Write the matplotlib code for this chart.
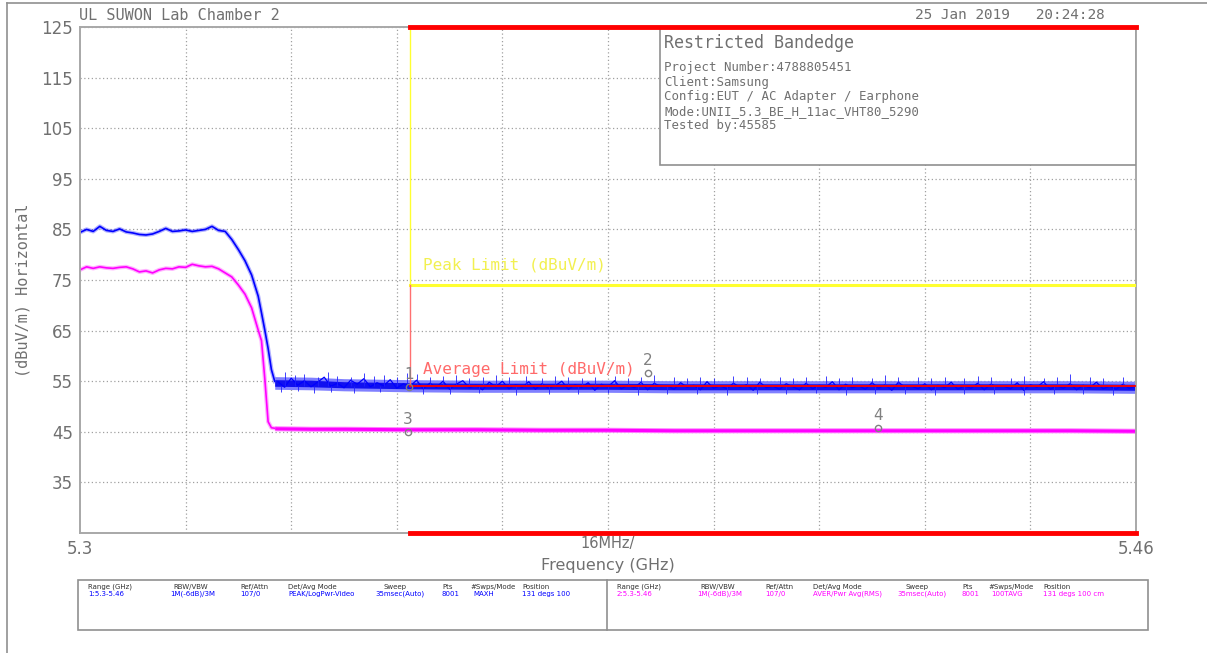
# Restricted bandedge plot (UL SUWON Lab Chamber 2)
import numpy as np
import matplotlib.pyplot as plt
from matplotlib.patches import Rectangle

# ---- data ----
# peak trace (blue) and average trace (magenta) in the shoulder region, GHz / dBuV/m
shoulder_f = [5.300, 5.301, 5.302, 5.303, 5.304, 5.305, 5.306, 5.307, 5.308, 5.309,
              5.310, 5.311, 5.312, 5.313, 5.314, 5.315, 5.316, 5.317, 5.318, 5.319,
              5.320, 5.321, 5.322, 5.323, 5.324, 5.325, 5.326, 5.327, 5.3275, 5.328,
              5.3285, 5.329, 5.3295]
peak_shoulder = [84.4, 85.0, 84.6, 85.6, 84.8, 84.6, 85.1, 84.5, 84.3, 84.0,
                 83.9, 84.1, 84.6, 85.2, 84.6, 84.7, 84.9, 84.6, 84.8, 85.0,
                 85.6, 84.8, 84.6, 83.0, 81.0, 78.8, 76.0, 71.8, 68.5, 65.1,
                 61.5, 57.3, 55.0]
avg_shoulder = [77.0, 77.6, 77.3, 77.6, 77.4, 77.3, 77.5, 77.6, 77.2, 76.6,
                76.8, 76.4, 77.0, 77.3, 77.2, 77.6, 77.5, 78.1, 77.8, 77.6,
                77.7, 77.2, 76.4, 75.6, 74.0, 72.2, 69.5, 65.1, 63.0, 55.5,
                47.0, 45.8, 45.7]

# peak trace noise floor, one reading per MHz from 5.330 GHz
noise_start = 5.330
noise_step = 0.001
peak_noise = [54.9, 53.8, 55.6, 54.2, 55.1, 53.9, 54.8, 55.8, 54.0, 54.6,
              53.7, 55.2, 54.4, 55.5, 53.9, 54.7, 54.1, 55.3, 53.6, 54.5,
              54.0, 55.2, 53.5, 54.6, 53.8, 55.0, 53.4, 54.4, 55.1, 53.7,
              54.2, 53.3, 54.8, 53.9, 55.0, 53.5, 54.3, 53.8, 54.9, 53.4,
              54.5, 53.6, 54.1, 55.0, 53.4, 54.3, 53.8, 54.7, 53.2, 54.4,
              53.9, 55.1, 53.5, 54.2, 53.7, 54.8, 53.3, 54.6, 53.9, 54.1,
              53.4, 54.7, 53.8, 54.2, 53.3, 54.9, 53.6, 54.1, 53.5, 54.6,
              53.8, 54.3, 53.2, 54.8, 53.7, 54.0, 53.4, 54.5, 53.9, 53.3,
              54.6, 53.5, 54.2, 53.8, 54.9, 53.3, 54.4, 53.7, 54.1, 53.4,
              54.7, 53.6, 54.3, 53.2, 54.8, 53.8, 54.0, 53.5, 54.5, 53.3,
              54.2, 53.7, 54.8, 53.4, 54.1, 53.6, 54.6, 53.3, 54.4, 53.9,
              54.0, 53.5, 54.7, 53.2, 54.3, 53.8, 54.9, 53.4, 54.1, 53.6,
              54.5, 53.3, 54.2, 53.7, 54.8, 53.5, 54.0, 53.4, 54.4, 53.6,
              54.1]

# noise floor envelopes after the band edge
floor_f = [5.3295, 5.335, 5.34, 5.35, 5.36, 5.37, 5.38, 5.39, 5.40, 5.41,
           5.42, 5.43, 5.44, 5.45, 5.46]
peak_lo = [53.7, 53.6, 53.4, 53.2, 53.1, 53.1, 53.1, 53.0, 53.0, 53.0, 53.0, 53.0, 53.0, 53.0, 52.9]
peak_hi = [55.6, 55.5, 55.2, 55.0, 54.9, 54.9, 54.9, 54.8, 54.8, 54.8, 54.8, 54.8, 54.8, 54.8, 54.7]
avg_lo = [45.4, 45.3, 45.3, 45.2, 45.2, 45.1, 45.1, 45.0, 45.0, 45.0, 45.0, 45.0, 45.0, 45.0, 44.9]
avg_hi = [46.0, 45.9, 45.9, 45.8, 45.8, 45.7, 45.7, 45.6, 45.6, 45.6, 45.6, 45.6, 45.6, 45.6, 45.5]

# spikes sticking out of the peak noise floor
spike_f = [5.331, 5.3325, 5.334, 5.336, 5.3375, 5.339, 5.341, 5.343, 5.3445, 5.346,
           5.348, 5.3495, 5.351, 5.353, 5.355, 5.357, 5.359, 5.361, 5.363, 5.365,
           5.3675, 5.370, 5.372, 5.374, 5.376, 5.378, 5.381, 5.383, 5.385, 5.387,
           5.390, 5.392, 5.394, 5.396, 5.399, 5.401, 5.403, 5.406, 5.408, 5.410,
           5.413, 5.415, 5.417, 5.420, 5.422, 5.424, 5.427, 5.429, 5.431, 5.434,
           5.436, 5.438, 5.441, 5.443, 5.446, 5.448, 5.450, 5.453, 5.455, 5.458]
spike_top = [56.8, 56.2, 56.5, 55.9, 56.9, 56.1, 55.8, 56.6, 56.0, 56.3,
             55.9, 56.7, 56.4, 55.8, 56.0, 56.3, 55.7, 55.9, 56.2, 55.8,
             56.0, 55.7, 56.1, 55.9, 55.6, 55.8, 56.0, 55.7, 55.9, 56.2,
             55.8, 55.6, 55.9, 55.7, 56.0, 55.8, 55.6, 55.9, 55.7, 55.8,
             56.0, 55.7, 55.9, 55.6, 56.3, 55.8, 55.9, 55.6, 55.8, 55.7,
             56.1, 55.8, 55.6, 56.0, 55.7, 55.9, 56.4, 55.8, 55.7, 55.9]
dip_f = [5.3305, 5.333, 5.3355, 5.338, 5.3415, 5.3455, 5.352, 5.356, 5.3605, 5.366,
         5.371, 5.3755, 5.380, 5.3845, 5.389, 5.3935, 5.398, 5.4025, 5.407, 5.4115,
         5.416, 5.4205, 5.425, 5.4295, 5.434, 5.4385, 5.443, 5.4475, 5.452, 5.4565]
dip_bottom = [52.9, 53.0, 52.7, 52.9, 52.6, 52.8, 52.5, 52.4, 52.6, 52.3,
              52.5, 52.4, 52.6, 52.3, 52.5, 52.4, 52.3, 52.5, 52.4, 52.6,
              52.3, 52.4, 52.5, 52.3, 52.4, 52.5, 52.3, 52.4, 52.5, 52.2]

# limit lines
band_edge = 5.35
f_stop = 5.46
peak_limit = 74
avg_limit = 54

# markers
marker_f = [5.3498, 5.3860, 5.3497, 5.4209]
marker_v = [53.9, 56.6, 45.0, 45.7]
marker_lbl = ['1', '2', '3', '4']

y_ticks = [35, 45, 55, 65, 75, 85, 95, 105, 115, 125]
x_grid = [5.316, 5.332, 5.348, 5.364, 5.380, 5.396, 5.412, 5.428, 5.444]

info_lines = ['Project Number:4788805451', 'Client:Samsung',
              'Config:EUT / AC Adapter / Earphone',
              'Mode:UNII_5.3_BE_H_11ac_VHT80_5290', 'Tested by:45585']

tbl_heads = ['Range (GHz)', 'RBW/VBW', 'Ref/Attn', 'Det/Avg Mode', 'Sweep', 'Pts',
             '#Swps/Mode', 'Position']
tbl_trace1 = ['1:5.3-5.46', '1M(-6dB)/3M', '107/0', 'PEAK/LogPwr-Video',
              '35msec(Auto)', '8001', 'MAXH', '131 degs 100']
tbl_trace2 = ['2:5.3-5.46', '1M(-6dB)/3M', '107/0', 'AVER/Pwr Avg(RMS)',
              '35msec(Auto)', '8001', '100TAVG', '131 degs 100 cm']

GRAY = '#707070'
BLUE = '#0000ff'
MAG = '#ff00ff'
MONO = 'DejaVu Sans Mono'

fig = plt.figure(figsize=(12.07, 6.53), dpi=100)

# overlay in pixel coordinates for frame, header and the settings table
bg = fig.add_axes([0, 0, 1, 1])
bg.set_xlim(0, 1207)
bg.set_ylim(653, 0)
bg.axis('off')
bg.plot([7, 1207], [3, 3], color='#909090', lw=1.2)
bg.plot([7, 7], [3, 653], color='#909090', lw=1.2)
bg.text(79, 15, 'UL SUWON Lab Chamber 2', family=MONO, fontsize=11, color=GRAY, va='center')
bg.text(1105, 15, '25 Jan 2019   20:24:28', family=MONO, fontsize=10.4, color=GRAY,
        va='center', ha='right')

# settings table
bg.add_patch(Rectangle((78, 580), 1070, 50, fill=False, ec='#909090', lw=1.2))
bg.plot([607, 607], [580, 630], color='#909090', lw=1.2)
col1 = [88, 173, 240, 288, 383, 442, 470, 522]
col2 = [617, 700, 765, 813, 905, 962, 988, 1043]
val_off = [0, -3, 0, 0, -8, 0, 3, 0]
for x1, x2, dx, h, v1, v2 in zip(col1, col2, val_off, tbl_heads, tbl_trace1, tbl_trace2):
    bg.text(x1, 587, h, fontsize=5, color='#303030', va='center')
    bg.text(x2, 587, h, fontsize=5, color='#303030', va='center')
    bg.text(x1 + dx, 594, v1, fontsize=5, color=BLUE, va='center')
    bg.text(x2 + dx, 594, v2, fontsize=5, color=MAG, va='center')

# main plot
ax = fig.add_axes([80 / 1207, 1 - 533 / 653, 1056 / 1207, 506 / 653])
ax.set_xlim(5.3, 5.46)
ax.set_ylim(25, 125)
ax.set_yticks(y_ticks)
ax.set_yticklabels([str(v) for v in y_ticks])
ax.set_xticks([5.3, 5.46])
ax.set_xticklabels(['5.3', '5.46'])
ax.set_xticks(x_grid, minor=True)
ax.tick_params(which='both', length=0, labelsize=12, labelcolor=GRAY, pad=5)
ax.grid(axis='y', which='major', color='#a0a0a0', lw=0.9, ls=(0, (1, 2)))
ax.grid(axis='x', which='minor', color='#a0a0a0', lw=0.9, ls=(0, (1, 2)))
for s in ax.spines.values():
    s.set_color('#a8a8a8')
    s.set_linewidth(1.4)

ax.set_ylabel('(dBuV/m) Horizontal', family=MONO, fontsize=11, color=GRAY)
ax.yaxis.set_label_coords(-0.047, 0.48)
ax.text(0.5, -0.02, '16MHz/', transform=ax.transAxes, ha='center', va='center',
        fontsize=10.5, color=GRAY)
ax.text(0.5, -0.064, 'Frequency (GHz)', transform=ax.transAxes, ha='center', va='center',
        fontsize=11.5, color=GRAY)

# restricted band bars top and bottom
ax.plot([band_edge, f_stop], [125, 125], color='#ff0000', lw=3.5, clip_on=False, zorder=6)
ax.plot([band_edge, f_stop], [25, 25], color='#ff0000', lw=3.5, clip_on=False, zorder=6)

# info box
ax.add_patch(Rectangle((5.3879, 97.7), f_stop - 5.3879, 125 - 97.7, fc='white',
                       ec='#909090', lw=1.2, zorder=4))
ax.text(5.3885, 121.8, 'Restricted Bandedge', family=MONO, fontsize=12, color=GRAY,
        va='center', zorder=5)
for i, line in enumerate(info_lines):
    ax.text(5.3885, 117.0 - i * 2.87, line, family=MONO, fontsize=8.9, color=GRAY,
            va='center', zorder=5)

# limit lines
ax.plot([band_edge, band_edge, f_stop], [125, peak_limit, peak_limit], color='#ffff30',
        lw=1.0, zorder=3)
ax.plot([band_edge, f_stop], [peak_limit, peak_limit], color='#ffff30', lw=2.2, zorder=3)
ax.plot([band_edge, band_edge], [peak_limit, avg_limit], color='#ff7070', lw=1.0, zorder=3)
ax.text(5.3519, 78.0, 'Peak Limit (dBuV/m)', family=MONO, fontsize=11.5, color='#f2f050',
        va='center')
ax.text(5.3519, 57.3, 'Average Limit (dBuV/m)', family=MONO, fontsize=11.5, color='#ff6a6a',
        va='center', zorder=5)

# traces: shoulder with a light halo, then noise floor bands and spikes
ax.plot(shoulder_f, peak_shoulder, color=BLUE, lw=3, alpha=0.3, zorder=2)
ax.plot(shoulder_f, peak_shoulder, color=BLUE, lw=1.2, zorder=2)
ax.plot(shoulder_f, avg_shoulder, color=MAG, lw=3, alpha=0.3, zorder=2)
ax.plot(shoulder_f, avg_shoulder, color=MAG, lw=1.2, zorder=2)

noise_f = noise_start + noise_step * np.arange(len(peak_noise))
ax.fill_between(floor_f, np.array(peak_lo) - 0.3, np.array(peak_hi) + 0.3, color='#8080ff',
                lw=0, zorder=2)
ax.fill_between(floor_f, np.array(peak_lo) + 0.3, np.array(peak_hi) - 0.3, color='#1010f0',
                lw=0, zorder=2)
ax.plot(noise_f, peak_noise, color=BLUE, lw=0.9, zorder=2)
ax.vlines(spike_f, avg_limit, spike_top, color='#2020ff', lw=0.6, zorder=2)
ax.vlines(dip_f, dip_bottom, avg_limit, color='#2020ff', lw=0.6, zorder=2)
ax.fill_between(floor_f, np.array(avg_lo) - 0.2, np.array(avg_hi) + 0.2, color='#ff80ff',
                lw=0, zorder=2)
ax.fill_between(floor_f, avg_lo, avg_hi, color=MAG, lw=0, zorder=2)

# average limit horizontal over the trace
ax.plot([band_edge, f_stop], [avg_limit, avg_limit], color='#ff0000', lw=1.3, zorder=3)

# markers
ax.plot(marker_f, marker_v, ls='none', marker='o', ms=4.5, mfc='none', mec='#808080',
        mew=1.0, zorder=5)
for f, v, t in zip(marker_f, marker_v, marker_lbl):
    ax.text(f, v + 1.0, t, ha='center', va='bottom', fontsize=11, color='#808080', zorder=5)

fig.savefig('out.png', dpi=100)
